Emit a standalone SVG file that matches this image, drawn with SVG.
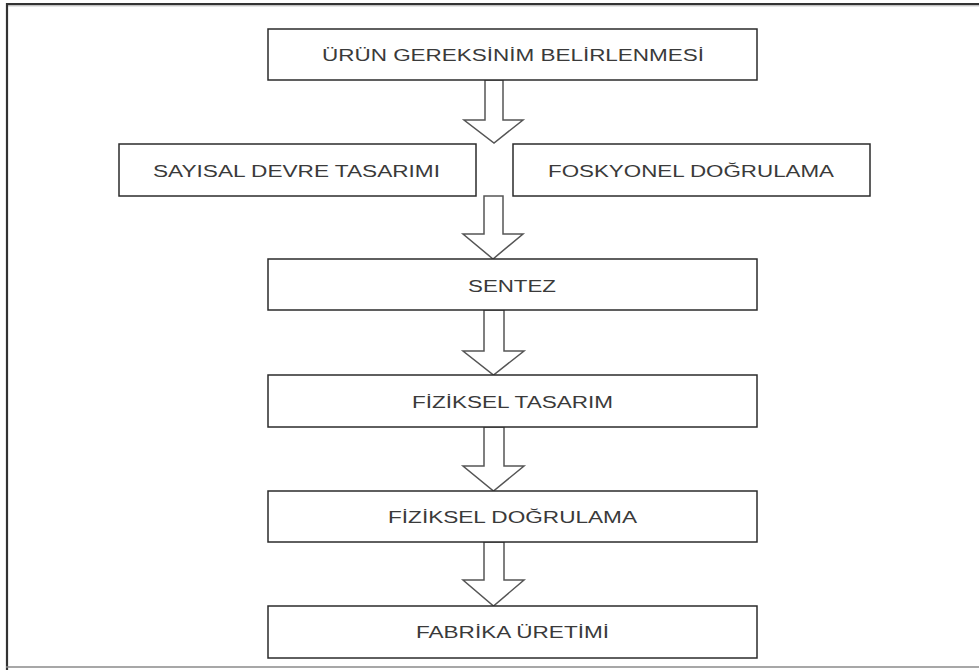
<svg xmlns="http://www.w3.org/2000/svg" width="979" height="670" viewBox="0 0 979 670">
<style>
.box{fill:#fff;stroke:#2b2b2b;stroke-width:1.5}
.lbl{font-family:"Liberation Sans",Arial,sans-serif;font-size:16px;fill:#3a3a3a;text-anchor:middle}
.arr{fill:#fff;stroke:#555;stroke-width:1.5;stroke-linejoin:miter}
</style>
<rect x="0" y="0" width="979" height="670" fill="#fff"/>
<g id="frame">
<line x1="6" y1="4" x2="979" y2="4" stroke="#333" stroke-width="2"/>
<line x1="6" y1="5.8" x2="979" y2="5.8" stroke="#aaa" stroke-width="1"/>
<line x1="7" y1="3" x2="7" y2="670" stroke="#333" stroke-width="2.2"/>
<line x1="6" y1="667" x2="979" y2="667" stroke="#8a8a8a" stroke-width="1.5"/>
</g>
<g id="connectors">
<polygon class="arr" points="485,80 503,80 503,120 523,120 494,143 464,120 485,120"/>
<polygon class="arr" points="484,196 503,196 503,234 523,234 493,259 463,234 484,234"/>
<polygon class="arr" points="484,310 504,310 504,351 524,351 493.5,375 463,351 484,351"/>
<polygon class="arr" points="484,427 504,427 504,466 524,466 493.5,491 463,466 484,466"/>
<polygon class="arr" points="484,542 504,542 504,580 524,580 493.5,606 463,580 484,580"/>
</g>
<g id="n1">
<rect class="box" x="268" y="29" width="489" height="51"/>
<text class="lbl" x="513" y="61" textLength="382" lengthAdjust="spacingAndGlyphs">ÜRÜN GEREKSİNİM BELİRLENMESİ</text>
</g>
<g id="n2">
<rect class="box" x="119" y="144" width="357" height="52"/>
<text class="lbl" x="296.5" y="177" textLength="287" lengthAdjust="spacingAndGlyphs">SAYISAL DEVRE TASARIMI</text>
</g>
<g id="n3">
<rect class="box" x="513" y="144" width="357" height="52"/>
<text class="lbl" x="691" y="177" textLength="286" lengthAdjust="spacingAndGlyphs">FOSKYONEL DOĞRULAMA</text>
</g>
<g id="n4">
<rect class="box" x="268" y="259" width="489" height="51"/>
<text class="lbl" x="512" y="292" textLength="88" lengthAdjust="spacingAndGlyphs">SENTEZ</text>
</g>
<g id="n5">
<rect class="box" x="268" y="375" width="489" height="52"/>
<text class="lbl" x="512.5" y="408" textLength="201" lengthAdjust="spacingAndGlyphs">FİZİKSEL TASARIM</text>
</g>
<g id="n6">
<rect class="box" x="268" y="491" width="489" height="51"/>
<text class="lbl" x="512.5" y="523" textLength="249" lengthAdjust="spacingAndGlyphs">FİZİKSEL DOĞRULAMA</text>
</g>
<g id="n7">
<rect class="box" x="268" y="606" width="489" height="52"/>
<text class="lbl" x="512.5" y="638" textLength="193" lengthAdjust="spacingAndGlyphs">FABRİKA ÜRETİMİ</text>
</g>
</svg>
